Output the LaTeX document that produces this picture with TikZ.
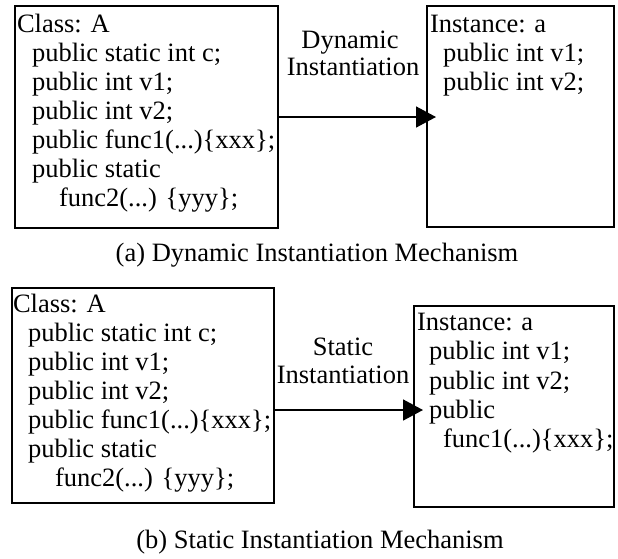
\documentclass[tikz,border=0pt]{standalone}
\usepackage{fontspec}
\setmainfont{Liberation Serif}
\usetikzlibrary{arrows.meta,calc}
\begin{document}
\begin{tikzpicture}[x=1pt,y=-1pt,
  every node/.style={inner sep=0pt,outer sep=0pt},
  txt/.style={anchor=base west,font=\fontsize{26.5}{29}\selectfont},
  ctr/.style={anchor=base,font=\fontsize{26.5}{29}\selectfont},
  boxst/.style={draw,line width=1.6pt,anchor=north west},
  conn/.style={line width=1.6pt,-{Triangle[length=20pt,width=21pt]},shorten >=-9pt}]
\useasboundingbox (0,0) rectangle (618,558);
% (a)
\node[boxst,minimum width=263pt,minimum height=222pt] (ca) at (15,6) {};
\node[boxst,minimum width=187pt,minimum height=221pt] (ia) at (427,6) {};
\node[txt] (ca1) at (17,32) {Class: A};
\node[txt] (ca2) at (32,61) {public static int c;};
\node[txt] (ca3) at (32,90) {public int v1;};
\node[txt] (ca4) at (32,119) {public int v2;};
\node[txt] (ca5) at (32,148) {public func1(...)\{xxx\};};
\node[txt] (ca6) at (32,177) {public static};
\node[txt] (ca7) at (59,206) {func2(...) \{yyy\};};
\node[txt] (ia1) at (430,32) {Instance: a};
\node[txt] (ia2) at (443,61) {public int v1;};
\node[txt] (ia3) at (443,90) {public int v2;};
\node[ctr] (la1) at (350,48) {Dynamic};
\node[ctr] (la2) at (353,75) {Instantiation};
\draw[conn] (ca.east) -- (ca.east -| ia.west);
\node[ctr] (capa) at (317,261) {(a) Dynamic Instantiation Mechanism};
% (b)
\node[boxst,minimum width=262pt,minimum height=215pt] (cb) at (12,288) {};
\node[boxst,minimum width=200pt,minimum height=201pt] (ib) at (414,306) {};
\node[txt] (cb1) at (13,312) {Class: A};
\node[txt] (cb2) at (28,341) {public static int c;};
\node[txt] (cb3) at (28,370) {public int v1;};
\node[txt] (cb4) at (28,399) {public int v2;};
\node[txt] (cb5) at (28,428) {public func1(...)\{xxx\};};
\node[txt] (cb6) at (28,457) {public static};
\node[txt] (cb7) at (55,486) {func2(...) \{yyy\};};
\node[txt] (ib1) at (417,330) {Instance: a};
\node[txt] (ib2) at (429,359.5) {public int v1;};
\node[txt] (ib3) at (429,389) {public int v2;};
\node[txt] (ib4) at (429,418) {public};
\node[txt] (ib5) at (443,447) {func1(...)\{xxx\};};
\node[ctr] (lb1) at (343,355) {Static};
\node[ctr] (lb2) at (343,383) {Instantiation};
\coordinate (ay) at (0,410);
\draw[conn] (cb.east |- ay) -- (ib.west |- ay);
\node[ctr] (capb) at (320,548) {(b) Static Instantiation Mechanism};
\end{tikzpicture}
\end{document}
